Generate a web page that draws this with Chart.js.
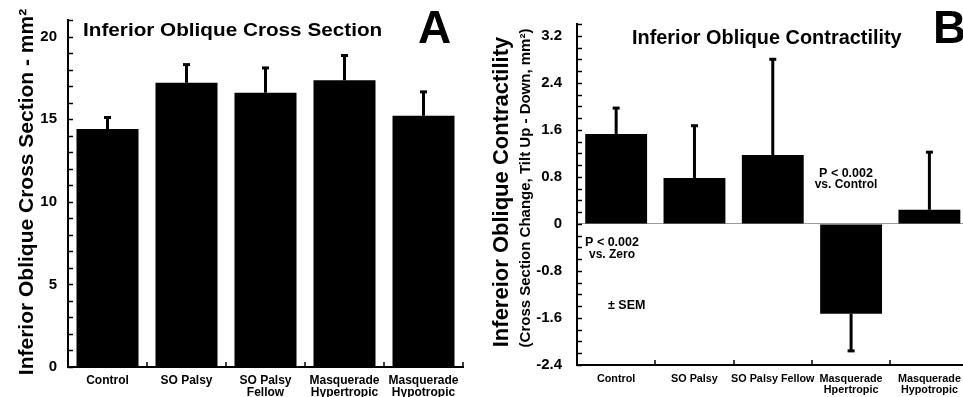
<!DOCTYPE html>
<html><head><meta charset="utf-8">
<script src="https://cdn.jsdelivr.net/npm/chart.js@4/dist/chart.umd.min.js"></script>
<style>
html,body{margin:0;padding:0;background:#fff;overflow:hidden;width:963px;height:397px;}
#a{position:absolute;left:0;top:0;}
#b{position:absolute;left:480px;top:0;}
</style></head><body>
<canvas id="a" width="480" height="397"></canvas>
<canvas id="b" width="490" height="397"></canvas>
<script>
const FONT = "'Liberation Sans', Arial, Helvetica, sans-serif";

// ---- Panel A data ----
const categoriesA = ['Control', 'SO Palsy', ['SO Palsy', 'Fellow'], ['Masquerade', 'Hypertropic'], ['Masquerade', 'Hypotropic']];
const crossSectionMean = [14.4, 17.2, 16.6, 17.35, 15.2];
const crossSectionSEM = [0.7, 1.1, 1.5, 1.5, 1.45];
const yTickLabelsA = [0, 5, 10, 15, 20];

// ---- Panel B data ----
const categoriesB = ['Control', 'SO Palsy', 'SO Palsy Fellow', ['Masquerade', 'Hpertropic'], ['Masquerade', 'Hypotropic']];
const contractilityMean = [1.53, 0.78, 1.17, -1.53, 0.24];
const contractilitySEM = [0.44, 0.89, 1.63, 0.63, 0.98];
const yTickLabelsB = [-2.4, -1.6, -0.8, 0, 0.8, 1.6, 2.4, 3.2];

function txt(ctx, s, x, y, size, align, opts) {
  opts = opts || {};
  ctx.save();
  ctx.translate(x, y);
  if (opts.rotate) ctx.rotate(-Math.PI / 2);
  if (opts.sx) ctx.scale(opts.sx, 1);
  ctx.font = 'bold ' + size + 'px ' + FONT;
  ctx.fillStyle = '#000';
  ctx.textAlign = align || 'left';
  ctx.textBaseline = 'alphabetic';
  ctx.fillText(s, 0, 0);
  ctx.restore();
}

function makeDecor(sem, texts) {
  return {
    id: 'decor',
    afterDatasetsDraw(chart) {
      const ctx = chart.ctx;
      const ys = chart.scales.y, xs = chart.scales.x;
      const meta = chart.getDatasetMeta(0);
      const means = chart.data.datasets[0].data;
      ctx.save();
      ctx.strokeStyle = '#000';
      ctx.lineCap = 'butt';
      // error bars (one-sided, away from zero)
      means.forEach((m, i) => {
        const x = meta.data[i].x;
        const dir = m >= 0 ? 1 : -1;
        const y0 = ys.getPixelForValue(m);
        const y1 = ys.getPixelForValue(m + dir * sem[i]);
        ctx.lineWidth = 3;
        ctx.beginPath(); ctx.moveTo(x, y0); ctx.lineTo(x, y1); ctx.stroke();
        ctx.lineWidth = 3;
        ctx.beginPath(); ctx.moveTo(x - 3.5, y1); ctx.lineTo(x + 3.5, y1); ctx.stroke();
      });
      // inward y ticks
      ctx.lineWidth = 1.5;
      ys.ticks.forEach(t => {
        const y = Math.round(ys.getPixelForValue(t.value)) + 0.5;
        ctx.beginPath(); ctx.moveTo(ys.right, y); ctx.lineTo(ys.right + 5, y); ctx.stroke();
      });
      // inward x ticks at category boundaries
      const n = chart.data.labels.length;
      const w = (xs.right - xs.left) / n;
      for (let i = 1; i <= n; i++) {
        const x = Math.round(xs.left + i * w);
        ctx.beginPath(); ctx.moveTo(x, xs.top); ctx.lineTo(x, xs.top - 5); ctx.stroke();
      }
      ctx.restore();
      texts.forEach(t => txt(ctx, t.s, t.x, t.y, t.size, t.align, t));
    }
  };
}

function baseOptions(cfg) {
  return {
    responsive: false, animation: false, devicePixelRatio: 1,
    layout: { padding: cfg.padding },
    plugins: { legend: { display: false }, tooltip: { enabled: false }, title: { display: false } },
    scales: {
      x: {
        grid: { display: false, drawTicks: false },
        border: { display: true, color: '#000', width: 2 },
        ticks: { color: '#000', font: { family: FONT, size: cfg.xFont, weight: 'bold', lineHeight: 1.0 }, padding: cfg.xPad, maxRotation: 0, minRotation: 0, autoSkip: false },
        afterFit: s => { s.height = cfg.xHeight; }
      },
      y: {
        min: cfg.min, max: cfg.max,
        grid: cfg.grid,
        border: { display: true, color: '#000', width: 2 },
        ticks: {
          stepSize: cfg.step, autoSkip: false, color: '#000', padding: cfg.yPad,
          font: { family: FONT, size: 15, weight: 'bold' },
          callback: v => {
            const hit = cfg.labels.find(l => Math.abs(l - v) < 1e-6);
            return hit === undefined ? '' : cfg.fmt(hit);
          }
        },
        afterFit: s => { s.width = cfg.yWidth; }
      }
    }
  };
}

// Panel A
new Chart(document.getElementById('a'), {
  type: 'bar',
  data: { labels: categoriesA, datasets: [{ data: crossSectionMean, backgroundColor: '#000', borderWidth: 0, barPercentage: 0.785, categoryPercentage: 1 }] },
  options: baseOptions({
    padding: { left: 0, top: 15, right: 17, bottom: 0 },
    xFont: 12, xPad: 8, xHeight: 30,
    min: 0, max: 21, step: 1, labels: yTickLabelsA, fmt: v => String(v),
    yPad: 11, yWidth: 68,
    grid: { display: false, drawTicks: false }
  }),
  plugins: [makeDecor(crossSectionSEM, [
    { s: 'Inferior Oblique Cross Section', x: 83, y: 36, size: 19, align: 'left', sx: 1.09 },
    { s: 'A', x: 418, y: 43, size: 46, align: 'left' },
    { s: 'Inferior Oblique Cross Section - mm\u00B2', x: 33, y: 192, size: 21, align: 'center', rotate: true }
  ])]
});

// Panel B
new Chart(document.getElementById('b'), {
  type: 'bar',
  data: { labels: categoriesB, datasets: [{ data: contractilityMean, backgroundColor: '#000', borderWidth: 0, barPercentage: 0.79, categoryPercentage: 1 }] },
  options: baseOptions({
    padding: { left: 0, top: 24, right: 1, bottom: 0 },
    xFont: 10.8, xPad: 9, xHeight: 32,
    min: -2.4, max: 3.4, step: 0.2, labels: yTickLabelsB, fmt: v => (v === 0 ? '0' : v.toFixed(1)),
    yPad: 15, yWidth: 97,
    grid: {
      display: true, drawOnChartArea: true, drawTicks: false, lineWidth: 1,
      color: c => (c.tick && Math.abs(c.tick.value) < 1e-9 ? '#9a9a9a' : 'rgba(0,0,0,0)')
    }
  }),
  plugins: [makeDecor(contractilitySEM, [
    { s: 'Inferior Oblique Contractility', x: 152, y: 44, size: 19.5, align: 'left', sx: 1.02 },
    { s: 'B', x: 453, y: 43, size: 46, align: 'left' },
    { s: 'Infereior Oblique Contractility', x: 28, y: 192, size: 22, align: 'center', rotate: true },
    { s: '(Cross Section Change, Tilt Up - Down, mm\u00B2)', x: 50, y: 188, size: 15, align: 'center', rotate: true },
    { s: 'P < 0.002', x: 366, y: 177, size: 12.5, align: 'center' },
    { s: 'vs. Control', x: 366, y: 188, size: 12, align: 'center' },
    { s: 'P < 0.002', x: 132, y: 246, size: 12.5, align: 'center' },
    { s: 'vs. Zero', x: 132, y: 258, size: 12, align: 'center' },
    { s: '\u00B1 SEM', x: 128, y: 309, size: 12.5, align: 'left' }
  ])]
});
</script>
</body></html>
